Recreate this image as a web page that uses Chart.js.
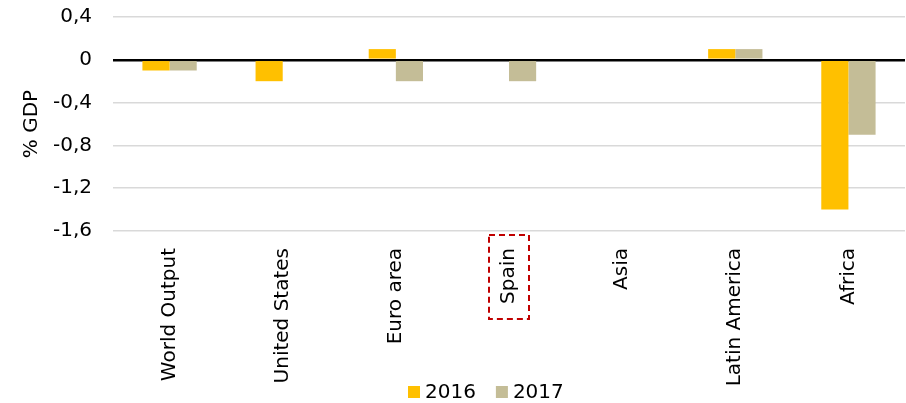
<!DOCTYPE html>
<html>
<head>
<meta charset="utf-8">
<script src="https://cdn.jsdelivr.net/npm/chart.js@4/dist/chart.umd.min.js"></script>
<style>
html,body{margin:0;padding:0;background:#fff;}
#wrap{width:906px;height:403px;position:relative;}
</style>
</head>
<body>
<div id="wrap"><canvas id="c" width="906" height="403"></canvas></div>
<script>
const categories = ["World Output","United States","Euro area","Spain","Asia","Latin America","Africa"];
const values2016 = [-0.1,-0.2,0.1,0,0,0.1,-1.4];
const values2017 = [-0.1,0,-0.2,-0.2,0,0.1,-0.7];
const seriesNames = ["2016","2017"];
const yTicks = [0.4,0,-0.4,-0.8,-1.2,-1.6];
const highlighted = "Spain";

const FONT = "DejaVu Sans";
const FS = 20;

const highlightPlugin = {
  id: 'highlight',
  afterDraw(chart) {
    const xs = chart.scales.x;
    const idx = categories.indexOf(highlighted);
    const ctx = chart.ctx;
    ctx.save();
    ctx.font = FS + "px '" + FONT + "'";
    const w = ctx.measureText(highlighted).width;
    const cx = xs.getPixelForValue(idx);
    const top = chart.chartArea.bottom + 4;
    ctx.strokeStyle = '#c00000';
    ctx.lineWidth = 2;
    ctx.setLineDash([6,4]);
    ctx.strokeRect(cx - 20, top, 40, w + 28);
    ctx.restore();
  }
};

const legendPlugin = {
  id: 'customLegend',
  afterDraw(chart) {
    const ctx = chart.ctx;
    ctx.save();
    ctx.font = FS + "px '" + FONT + "'";
    ctx.textBaseline = 'middle';
    ctx.textAlign = 'left';
    let x = chart.chartArea.left + 295;
    const y = 392;
    chart.data.datasets.forEach(ds => {
      ctx.fillStyle = ds.backgroundColor;
      ctx.fillRect(x, y - 6, 12, 12);
      ctx.fillStyle = '#000';
      ctx.fillText(ds.label, x + 17, y + 1);
      x += 17 + ctx.measureText(ds.label).width + 20;
    });
    ctx.restore();
  }
};

new Chart(document.getElementById('c'), {
  type: 'bar',
  data: {
    labels: categories,
    datasets: [
      {label: seriesNames[0], data: values2016, backgroundColor: '#ffc000', barPercentage: 1, categoryPercentage: 0.48},
      {label: seriesNames[1], data: values2017, backgroundColor: '#c4bd97', barPercentage: 1, categoryPercentage: 0.48}
    ]
  },
  options: {
    responsive: false,
    animation: false,
    layout: {padding: {top: 17, right: 1, left: 0, bottom: 0}},
    plugins: {
      legend: {display: false},
      tooltip: {enabled: false}
    },
    scales: {
      x: {
        grid: {display: false},
        border: {display: false},
        afterFit(s) { s.height = 172; s.paddingTop = 0; s.paddingBottom = 0; },
        ticks: {
          font: {family: FONT, size: FS}, color: '#000',
          minRotation: 90, maxRotation: 90, autoSkip: false, padding: 9
        }
      },
      y: {
        min: -1.6, max: 0.4,
        afterBuildTicks(s) { s.ticks = yTicks.slice().reverse().map(v => ({value: v})); },
        afterFit(s) { s.width = 113; s.paddingTop = 0; s.paddingBottom = 0; },
        border: {display: false},
        grid: {
          drawTicks: false,
          color: ctx => ctx.tick && ctx.tick.value === 0 ? '#000' : '#d9d9d9',
          lineWidth: ctx => ctx.tick && ctx.tick.value === 0 ? 2.5 : 1.5
        },
        ticks: {
          font: {family: FONT, size: FS}, color: '#000', padding: 21,
          callback: v => String(Math.round(v*10)/10).replace('.', ',')
        },
        title: {display: true, text: '% GDP', font: {family: FONT, size: FS}, color: '#000', padding: {top: 20, bottom: 0}}
      }
    }
  },
  plugins: [highlightPlugin, legendPlugin]
});
</script>
</body>
</html>
